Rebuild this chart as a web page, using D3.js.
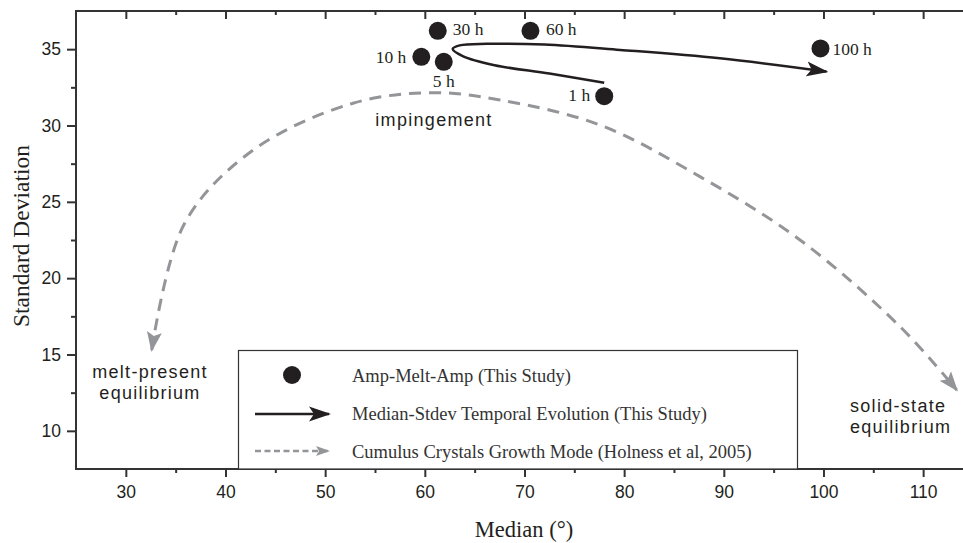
<!DOCTYPE html>
<html>
<head>
<meta charset="utf-8">
<script src="https://cdn.jsdelivr.net/npm/d3@7"></script>
<style>
  body { margin: 0; background: #fff; }
  svg { display: block; }
  .tick text { font-family: "Liberation Sans", Arial, sans-serif; font-size: 17.5px; fill: #231f20; }
  .axis path, .axis line { stroke: #333; stroke-width: 2; }
</style>
</head>
<body>
<svg id="chart" width="963" height="543"></svg>
<script>
// --- data ---
// experiment runs: duration label, median angle, standard deviation
var runNames = ["1 h", "5 h", "10 h", "30 h", "60 h", "100 h"];
var runMedian = [78.0, 61.9, 59.65, 61.3, 70.6, 99.7];
var runStdev = [31.92, 34.17, 34.5, 36.2, 36.2, 35.05];

// hand-drawn temporal evolution arrow (median, stdev)
var evolutionMedian = [78.0, 72.5, 67.0, 63.8, 62.8, 63.5, 66.2, 72.0, 79.6, 89.6, 100.3];
var evolutionStdev = [32.8, 33.4, 33.95, 34.55, 35.02, 35.25, 35.35, 35.3, 34.95, 34.4, 33.53];

// cumulus crystal growth mode curve (Holness et al, 2005)
var growthMedian = [32.6, 35.9, 42.8, 52.8, 60.85, 67.54, 77.58, 87.61, 97.65, 107.68, 113.37];
var growthStdev = [15.3, 23.6, 28.4, 31.46, 32.15, 31.67, 30.03, 26.65, 22.5, 16.83, 12.68];

var xMajor = [30, 40, 50, 60, 70, 80, 90, 100, 110];
var xMinor = [35, 45, 55, 65, 75, 85, 95, 105];
var yMajor = [10, 15, 20, 25, 30, 35];
var yMinor = [12.5, 17.5, 22.5, 27.5, 32.5];

var legendLabels = [
  "Amp-Melt-Amp (This Study)",
  "Median-Stdev Temporal Evolution (This Study)",
  "Cumulus Crystals Growth Mode (Holness et al, 2005)"
];

// label placement around each marker (pixels)
var labelPlace = {
  "1 h":   {dx: -14, dy: 5,   anchor: "end"},
  "5 h":   {dx: 0,   dy: 25,  anchor: "middle"},
  "10 h":  {dx: -15, dy: 6.5, anchor: "end"},
  "30 h":  {dx: 15,  dy: 4.5, anchor: "start"},
  "60 h":  {dx: 15.5, dy: 4.5, anchor: "start"},
  "100 h": {dx: 12,  dy: 6.5, anchor: "start"}
};

var ink = "#231f20";
var grey = "#939598";
var serif = "'Liberation Serif', 'Times New Roman', serif";
var sans = "'Liberation Sans', Arial, sans-serif";

var svg = d3.select("#chart");

var x = d3.scaleLinear().domain([25, 114]).range([76, 963]);
var y = d3.scaleLinear().domain([7.5, 37.5]).range([469, 11]);

// markers for arrow heads
var defs = svg.append("defs");
defs.append("marker")
    .attr("id", "headBlack")
    .attr("markerUnits", "userSpaceOnUse")
    .attr("viewBox", "0 -8 22 16")
    .attr("refX", 20).attr("refY", 0)
    .attr("markerWidth", 22).attr("markerHeight", 16)
    .attr("orient", "auto")
  .append("path")
    .attr("d", "M0,-7.5L22,0L0,7.5L5,0Z")
    .attr("fill", ink);

defs.append("marker")
    .attr("id", "headGrey")
    .attr("markerUnits", "userSpaceOnUse")
    .attr("viewBox", "0 -8 20 16")
    .attr("refX", 18).attr("refY", 0)
    .attr("markerWidth", 20).attr("markerHeight", 16)
    .attr("orient", "auto-start-reverse")
  .append("path")
    .attr("d", "M0,-7.5L20,0L0,7.5L4,0Z")
    .attr("fill", grey);

defs.append("marker")
    .attr("id", "headGreySmall")
    .attr("markerUnits", "userSpaceOnUse")
    .attr("viewBox", "0 -6 14 12")
    .attr("refX", 13).attr("refY", 0)
    .attr("markerWidth", 14).attr("markerHeight", 12)
    .attr("orient", "auto")
  .append("path")
    .attr("d", "M0,-5L14,0L0,5L3,0Z")
    .attr("fill", grey);

// axes
var left = svg.append("g").attr("class", "axis")
    .attr("transform", "translate(76,0)")
    .call(d3.axisLeft(y).tickValues(yMajor).tickSize(9).tickPadding(6).tickFormat(d3.format("d")));
left.select(".domain").remove();
svg.append("g").attr("class", "axis")
    .attr("transform", "translate(76,0)")
    .call(d3.axisLeft(y).tickValues(yMinor).tickSize(5).tickFormat(""))
    .select(".domain").remove();

var bottom = svg.append("g").attr("class", "axis")
    .attr("transform", "translate(0,469)")
    .call(d3.axisBottom(x).tickValues(xMajor).tickSize(8).tickPadding(9).tickFormat(d3.format("d")));
bottom.select(".domain").remove();
svg.append("g").attr("class", "axis")
    .attr("transform", "translate(0,469)")
    .call(d3.axisBottom(x).tickValues(xMinor).tickSize(4).tickFormat(""))
    .select(".domain").remove();

// top axis, ticks pointing inward
svg.append("g").attr("class", "axis")
    .attr("transform", "translate(0,11)")
    .call(d3.axisTop(x).tickValues(xMajor).tickSize(-8).tickFormat(""))
    .select(".domain").remove();
svg.append("g").attr("class", "axis")
    .attr("transform", "translate(0,11)")
    .call(d3.axisTop(x).tickValues(xMinor).tickSize(-4).tickFormat(""))
    .select(".domain").remove();

// frame lines
svg.append("path")
    .attr("d", "M963,11H76V469H963")
    .attr("fill", "none")
    .attr("stroke", "#333")
    .attr("stroke-width", 2);

// axis titles
svg.append("text")
    .attr("transform", "translate(29,236) rotate(-90)")
    .attr("text-anchor", "middle")
    .style("font-family", serif)
    .style("font-size", "23.5px")
    .attr("fill", ink)
    .text("Standard Deviation");

svg.append("text")
    .attr("x", 524).attr("y", 536.5)
    .attr("text-anchor", "middle")
    .style("font-family", serif)
    .style("font-size", "22.5px")
    .attr("fill", ink)
    .text("Median (°)");

// growth mode curve
var curveLine = d3.line()
    .x(function(d) { return x(d[0]); })
    .y(function(d) { return y(d[1]); })
    .curve(d3.curveCatmullRom.alpha(0.5));

svg.append("path")
    .datum(d3.zip(growthMedian, growthStdev))
    .attr("d", curveLine)
    .attr("fill", "none")
    .attr("stroke", grey)
    .attr("stroke-width", 3)
    .attr("stroke-dasharray", "12,8")
    .attr("marker-start", "url(#headGrey)")
    .attr("marker-end", "url(#headGrey)");

// evolution arrow
svg.append("path")
    .datum(d3.zip(evolutionMedian, evolutionStdev))
    .attr("d", curveLine)
    .attr("fill", "none")
    .attr("stroke", ink)
    .attr("stroke-width", 2.5)
    .attr("marker-end", "url(#headBlack)");

// annotations
function note(lines, px, py, anchor) {
  var t = svg.append("text")
      .attr("text-anchor", anchor)
      .style("font-family", sans)
      .style("font-size", "18px")
      .style("letter-spacing", "1.3px")
      .attr("fill", ink);
  lines.forEach(function(s, i) {
    t.append("tspan").attr("x", px).attr("y", py + i * 21.5).text(s);
  });
}
note(["impingement"], 434, 125.5, "middle");
note(["melt-present", "equilibrium"], 150, 377.5, "middle");
note(["solid-state", "equilibrium"], 850, 411.5, "start");

// points
var runs = runNames.map(function(n, i) { return {name: n, m: runMedian[i], s: runStdev[i]}; });

svg.append("g").selectAll("circle")
    .data(runs)
    .join("circle")
    .attr("cx", function(d) { return x(d.m); })
    .attr("cy", function(d) { return y(d.s); })
    .attr("r", 9)
    .attr("fill", ink);

svg.append("g").selectAll("text")
    .data(runs)
    .join("text")
    .attr("x", function(d) { return x(d.m) + labelPlace[d.name].dx; })
    .attr("y", function(d) { return y(d.s) + labelPlace[d.name].dy; })
    .attr("text-anchor", function(d) { return labelPlace[d.name].anchor; })
    .style("font-family", serif)
    .style("font-size", "17.5px")
    .attr("fill", ink)
    .text(function(d) { return d.name; });

// legend
var legend = svg.append("g");
legend.append("rect")
    .attr("x", 238.5).attr("y", 350.5)
    .attr("width", 559).attr("height", 118.5)
    .attr("fill", "#fff")
    .attr("stroke", "#333")
    .attr("stroke-width", 1.2);

legend.append("circle")
    .attr("cx", 292).attr("cy", 375).attr("r", 9).attr("fill", ink);
legend.append("line")
    .attr("x1", 255).attr("x2", 329).attr("y1", 414).attr("y2", 414)
    .attr("stroke", ink).attr("stroke-width", 2.5)
    .attr("marker-end", "url(#headBlack)");
legend.append("line")
    .attr("x1", 255).attr("x2", 329).attr("y1", 451).attr("y2", 451)
    .attr("stroke", grey).attr("stroke-width", 2.5)
    .attr("stroke-dasharray", "6,3.5")
    .attr("marker-end", "url(#headGreySmall)");

legend.selectAll("text.lab")
    .data(legendLabels)
    .join("text")
    .attr("class", "lab")
    .attr("x", 352)
    .attr("y", function(d, i) { return 381.5 + i * 38; })
    .style("font-family", serif)
    .style("font-size", "18.5px")
    .attr("fill", "#333")
    .text(function(d) { return d; });
</script>
</body>
</html>
